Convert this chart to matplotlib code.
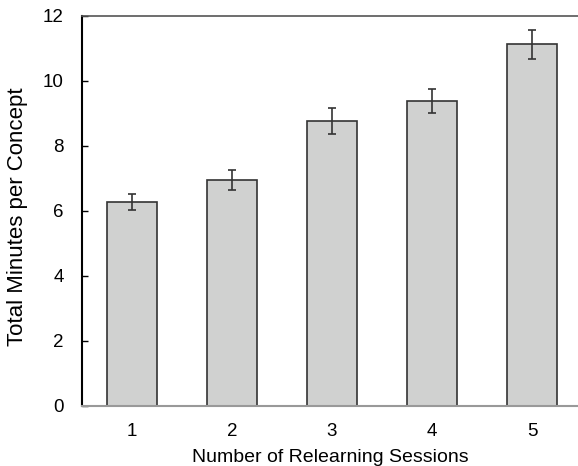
import matplotlib
matplotlib.use("Agg")
import matplotlib.pyplot as plt

sessions = [1, 2, 3, 4, 5]
minutes = [6.27, 6.96, 8.77, 9.38, 11.13]
errors = [0.25, 0.31, 0.39, 0.37, 0.45]

plt.rcParams['font.family'] = ['Liberation Sans', 'DejaVu Sans']

fig = plt.figure(figsize=(5.78, 4.66), dpi=100)
ax = fig.add_axes([0.1419, 0.1288, 0.8581, 0.8369])

ax.bar(sessions, minutes, width=0.5, color='#d0d1d0', edgecolor='#333333', linewidth=1.2)
ax.errorbar(sessions, minutes, yerr=errors, fmt='none', ecolor='#333333',
            elinewidth=1.2, capsize=3, capthick=1.2)

ax.set_xlim(0.5, 5.46)
ax.set_ylim(0, 12)
ax.set_yticks([0, 2, 4, 6, 8, 10, 12])
ax.set_xticks(sessions)

ax.spines['right'].set_visible(False)
ax.spines['left'].set_color('black')
ax.spines['left'].set_linewidth(1.5)
ax.spines['top'].set_color('#555555')
ax.spines['top'].set_linewidth(1.2)
ax.spines['bottom'].set_color('#999999')
ax.spines['bottom'].set_linewidth(1.5)

ax.tick_params(axis='y', direction='in', length=4, width=1, labelsize=13.5, pad=13)
ax.tick_params(axis='x', length=0, labelsize=13.5, pad=12)

ax.set_xlabel('Number of Relearning Sessions', fontsize=14, labelpad=7)
ax.set_ylabel('Total Minutes per Concept', fontsize=16, labelpad=8)
ax.yaxis.set_label_coords(-0.108, 0.486)

fig.savefig('out.png', dpi=100)
